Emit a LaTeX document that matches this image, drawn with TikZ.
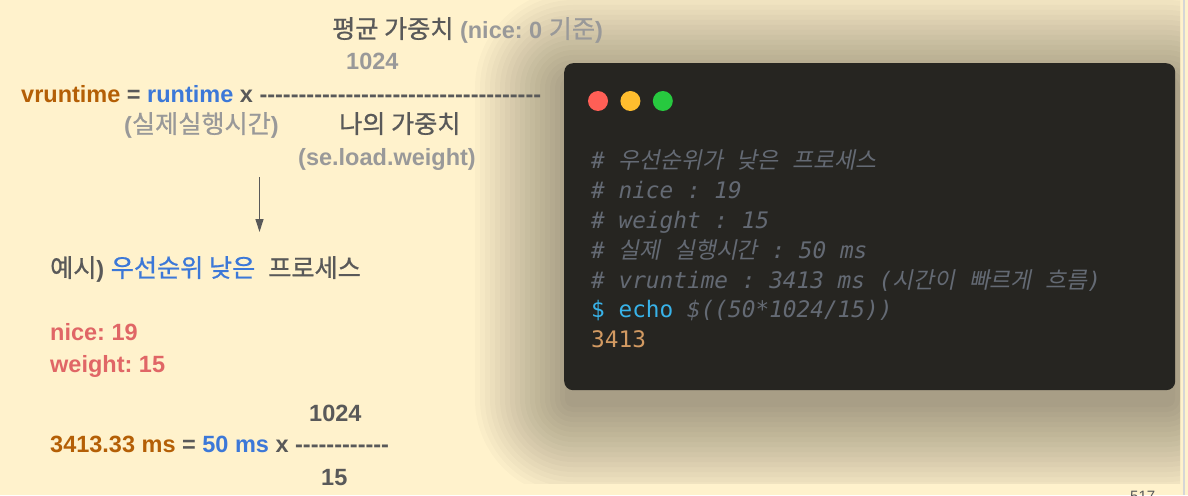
\documentclass[tikz,border=0pt]{standalone}
\usepackage{fontspec}
\setmainfont{Liberation Sans}
\setmonofont{DejaVu Sans Mono}
\newfontfamily\kr[Scale=1.07,BoldFont={Noto Sans CJK KR},BoldFeatures={FakeBold=0.8}]{Noto Sans CJK KR}
\newfontfamily\krmono[Scale=1.0,FakeSlant=0.2]{Noto Sans CJK KR}
\usetikzlibrary{arrows.meta,positioning}

\definecolor{bgyel}{HTML}{FFF2CC}
\definecolor{vrbrown}{HTML}{B45F06}
\definecolor{rtblue}{HTML}{3C78D8}
\definecolor{dgray}{HTML}{595959}
\definecolor{lgray}{HTML}{999999}
\definecolor{nred}{HTML}{E06666}
\definecolor{termbg}{HTML}{262521}
\definecolor{cmtgray}{HTML}{646A74}
\definecolor{echoblue}{HTML}{38B2E8}
\definecolor{numtan}{HTML}{D29A62}
\definecolor{dotred}{HTML}{FF5F56}
\definecolor{dotyel}{HTML}{FFBD2E}
\definecolor{dotgrn}{HTML}{27C93F}
\definecolor{edgegray}{HTML}{D6D6D6}

\newcommand{\dashrow}[1]{\foreach \i in {1,...,#1}{\mbox{-}}}

\begin{document}
\frenchspacing
\begin{tikzpicture}[x=1pt,y=-1pt,
    txt/.style={inner sep=0pt,anchor=base west,font=\fontsize{23.5}{28}\selectfont\bfseries,text=dgray},
    code/.style={inner sep=0pt,anchor=base west,font=\fontsize{22.75}{27}\selectfont\ttfamily\itshape,text=cmtgray},
    dot/.style={circle,inner sep=0pt,minimum size=20pt},
    termbox/.style={fill=termbg,rounded corners=9pt,inner sep=0pt,minimum width=611pt,minimum height=327pt},
    arr/.style={-{Triangle[length=13pt,width=8pt]},line width=1.2pt,dgray}]
  \useasboundingbox (0,0) rectangle (1188,495);
  \fill[bgyel] (0,0) rectangle (1188,495);

  % shadow behind the terminal
  \begin{scope}
    \clip (472,-5) rectangle (1180,483);
    \foreach \s in {0,5,...,90}
      \fill[black,opacity=0.02,rounded corners=8pt+\s pt] ({565-\s},{80-\s}) rectangle ({1175+\s},{407+\s});
  \end{scope}
  \draw[line width=1.5pt,edgegray] (1184,0) -- (1184,495);
  \node[inner sep=0pt,anchor=base west,font=\fontsize{15}{18}\selectfont,text=dgray] (page) at (1130,501) {517};

  % formula
  \node[txt] (avgw) at (332,38) {{\kr 평균 가중치} \textcolor{lgray}{(nice: 0 {\kr 기준})}};
  \node[txt,text=lgray] (avgnum) at (346,70) {1024};
  \node[txt] (formula) at (21,102) {\textcolor{vrbrown}{vruntime} = \textcolor{rtblue}{runtime} x \dashrow{36}};
  \node[txt,text=lgray] (realt) at (124,133) {({\kr 실제실행시간})};
  \node[txt] (myw) at (339,133) {\kr 나의 가중치};
  \node[txt,text=lgray] (loadw) at (298,165) {(se.load.weight)};
  \coordinate (arrtop) at (259.5,177);
  \coordinate (arrbot) at (259.5,232);
  \draw[arr] (arrtop) -- (arrbot);

  % example
  \node[txt] (example) at (50,277) {{\kr 예시}) \textcolor{rtblue}{\kr 우선순위 낮은}~~{\kr 프로세스}};
  \node[txt,text=nred] (nice) at (50,340) {nice: 19};
  \node[txt,text=nred] (weight) at (50,372) {weight: 15};
  \node[txt] (num) at (309,421) {1024};
  \node[txt] (calc) at (50,452) {\textcolor{vrbrown}{3413.33 ms} = \textcolor{rtblue}{50 ms} x \dashrow{12}};
  \node[txt] (den) at (321,485) {15};

  % terminal
  \node[termbox,anchor=north west] (term) at (564,63) {};
  \node[dot,fill=dotred] (red) at (598,101) {};
  \node[dot,fill=dotyel,right=12pt of red] (yel) {};
  \node[dot,fill=dotgrn,right=12pt of yel] (grn) {};
  \node[code] (l1) at (591,168) {\# {\krmono 우선순위가} {\krmono 낮은} {\krmono 프로세스}};
  \node[code] (l2) at (591,198) {\# nice : 19};
  \node[code] (l3) at (591,228) {\# weight : 15};
  \node[code] (l4) at (591,258) {\# {\krmono 실제} {\krmono 실행시간} : 50 ms};
  \node[code] (l5) at (591,288) {\# vruntime : 3413 ms ({\krmono 시간이} {\krmono 빠르게} {\krmono 흐름})\kern-2pt};
  \node[code] (l6) at (591,317) {{\upshape\color{echoblue}\$ echo} \$((50*1024/15))};
  \node[code] (l7) at (591,347) {{\upshape\color{numtan}3413}};
\end{tikzpicture}
\end{document}
